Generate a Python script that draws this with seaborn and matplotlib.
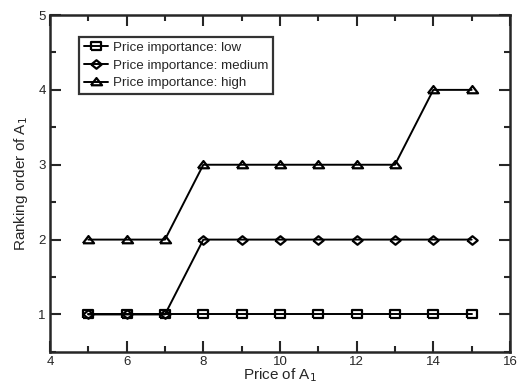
import matplotlib
matplotlib.use("Agg")
import matplotlib.pyplot as plt
import seaborn as sns
import pandas as pd
from matplotlib.ticker import MultipleLocator

sns.set_style("ticks")
plt.rcParams['font.family'] = ['Liberation Sans', 'DejaVu Sans']

price = [5, 6, 7, 8, 9, 10, 11, 12, 13, 14, 15]
low = [1, 1, 1, 1, 1, 1, 1, 1, 1, 1, 1]
medium = [1, 1, 1, 2, 2, 2, 2, 2, 2, 2, 2]
high = [2, 2, 2, 3, 3, 3, 3, 3, 3, 4, 4]
labels = ["Price importance: low", "Price importance: medium", "Price importance: high"]

sq = [(-1, -0.85), (1, -0.85), (1, 0.85), (-1, 0.85), (-1, -0.85)]
dia = [(-1, 0), (0, 0.82), (1, 0), (0, -0.82), (-1, 0)]
tri = [(-1, -0.5), (1, -0.5), (0, 0.8), (-1, -0.5)]
markers = [sq, dia, tri]
sizes = [6.5, 7.5, 8]

df = pd.concat([
    pd.DataFrame({"price": price, "rank": vals, "series": lab})
    for vals, lab in zip([low, medium, high], labels)
])

fig = plt.figure(figsize=(5.18, 3.85), dpi=100)
ax = fig.add_axes([0.0965, 0.086, 0.888, 0.875])

for lab, m, ms in zip(labels, markers, sizes):
    sub = df[df["series"] == lab]
    sns.lineplot(data=sub, x="price", y="rank", ax=ax, color="black", linewidth=1.4,
                 marker=m, markersize=ms, markerfacecolor="none", markeredgecolor="black",
                 markeredgewidth=1.6, label=lab)

ax.set_xlim(4, 16)
ax.set_ylim(0.5, 5)
ax.xaxis.set_major_locator(MultipleLocator(2))
ax.xaxis.set_minor_locator(MultipleLocator(1))
ax.yaxis.set_major_locator(MultipleLocator(1))
ax.yaxis.set_minor_locator(MultipleLocator(0.5))
ax.tick_params(which="both", direction="in", top=True, right=True, labelsize=9.5, width=1.5, pad=3)
ax.tick_params(which="major", length=8)
ax.tick_params(which="minor", length=4.5)
ax.set_yticks([1, 2, 3, 4, 5])
for s in ax.spines.values():
    s.set_linewidth(1.8)
ax.set_xlabel("Price of A$_1$", fontsize=11, labelpad=-1)
ax.set_ylabel("Ranking order of A$_1$", fontsize=11, labelpad=6)

leg = ax.legend(loc="upper left", bbox_to_anchor=(0.063, 0.935), fontsize=9.6, frameon=True,
                fancybox=False, edgecolor="black", handlelength=1.8, handletextpad=0.4,
                labelspacing=0.4, borderpad=0.35, borderaxespad=0)
leg.get_frame().set_linewidth(1.6)

fig.savefig("out.png", dpi=100)
